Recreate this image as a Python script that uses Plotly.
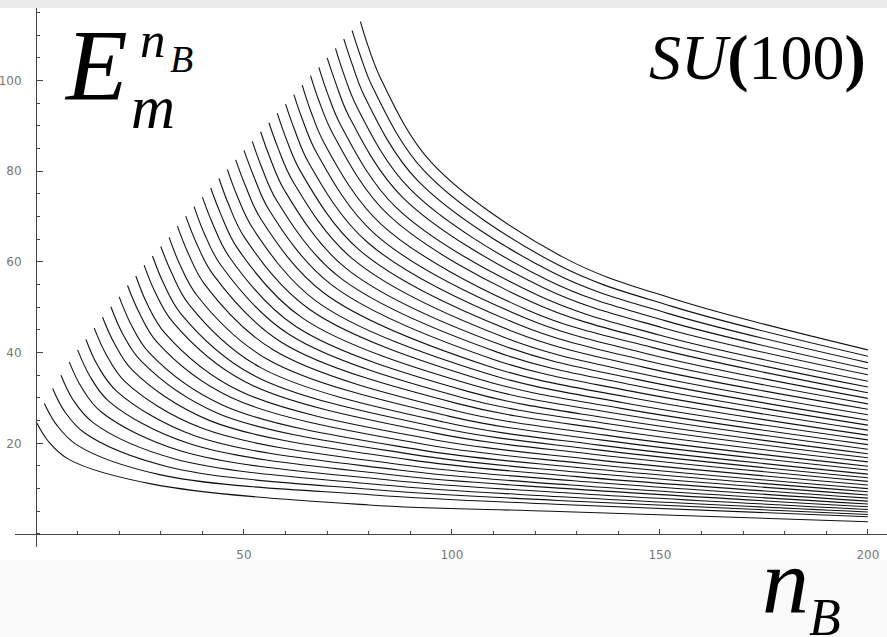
import plotly.graph_objects as go

W, H = 887, 637

# ---- data ----
# start of every curve
N0 = [0, 2, 4, 6, 8, 10, 12, 14, 16, 18, 20, 22, 24, 26, 28, 30, 32, 34, 36, 38,
      40, 42, 44, 46, 48, 50, 52, 54, 56, 58, 60, 62, 64, 66, 68, 70, 72, 74, 76, 78]
E0 = [24.8, 28.8, 32.1, 35.0, 37.9, 40.6, 42.9, 45.4, 47.8, 50.1, 52.3, 54.8, 56.9, 59.3,
      61.3, 63.4, 65.4, 67.9, 70.1, 72.2, 74.3, 76.3, 78.4, 80.4, 82.5, 84.6, 86.6, 88.7,
      90.7, 92.8, 94.8, 96.9, 99.0, 101.1, 102.9, 105.0, 107.1, 109.2, 111.0, 113.0]
# a little after the start
NA = [3.0, 5.0, 6.9, 8.9, 10.9, 12.9, 14.8, 16.8, 18.8, 20.7, 22.7, 24.7, 26.6, 28.6,
      30.6, 32.6, 34.5, 36.5, 38.5, 40.4, 42.4, 44.4, 46.3, 48.3, 50.3, 52.3, 54.2, 56.2,
      58.2, 60.1, 62.1, 64.1, 66.0, 68.0, 70.0, 72.0, 73.9, 75.9, 77.9, 79.8]
EA = [20.4, 24.0, 27.0, 29.6, 32.4, 34.9, 37.2, 39.7, 42.1, 44.4, 46.5, 49.0, 51.0, 53.4,
      55.4, 57.6, 59.6, 62.1, 64.3, 66.4, 68.6, 70.6, 72.7, 74.7, 76.9, 79.0, 81.0, 83.1,
      85.1, 87.3, 89.3, 91.3, 93.4, 95.6, 97.4, 99.6, 101.7, 103.9, 105.7, 107.7]
N1 = [8, 9.9, 11.8, 13.8, 15.7, 17.6, 19.5, 21.4, 23.4, 25.3, 27.2, 29.1, 31.0, 33.0,
      34.9, 36.8, 38.7, 40.6, 42.6, 44.5, 46.4, 48.3, 50.2, 52.2, 54.1, 56, 57.9, 59.8,
      61.8, 63.7, 65.6, 67.5, 69.4, 71.4, 73.3, 75.2, 77.1, 79.0, 81.0, 82.9]
E1 = [16.4, 19.6, 22.2, 24.5, 26.9, 29.2, 31.4, 33.6, 35.9, 38.1, 40.0, 42.3, 44.3, 46.6,
      48.5, 50.6, 52.6, 55.0, 57.2, 59.2, 61.2, 63.2, 65.3, 67.3, 69.4, 71.5, 73.5, 75.7,
      77.7, 79.8, 81.8, 84.0, 86.0, 88.2, 90.1, 92.2, 94.3, 96.5, 98.4, 100.4]
N2 = [28, 29.7, 31.4, 33.2, 34.9, 36.6, 38.3, 40.0, 41.8, 43.5, 45.2, 46.9, 48.6, 50.4,
      52.1, 53.8, 55.5, 57.2, 59.0, 60.7, 62.4, 64.1, 65.8, 67.6, 69.3, 71, 72.7, 74.4,
      76.2, 77.9, 79.6, 81.3, 83.0, 84.8, 86.5, 88.2, 89.9, 91.6, 93.4, 95.1]
E2 = [11.0, 13.1, 14.9, 16.6, 18.3, 20.0, 21.6, 23.3, 25.0, 26.7, 28.3, 30.1, 31.7, 33.5,
      35.1, 36.8, 38.6, 40.5, 42.3, 44.1, 45.8, 47.6, 49.5, 51.2, 53.1, 55.0, 56.8, 58.7,
      60.6, 62.5, 64.4, 66.3, 68.3, 70.3, 72.1, 74.2, 76.1, 78.1, 80.0, 81.9]
N3 = [80, 81.2, 82.4, 83.6, 84.8, 86, 87.2, 88.4, 89.6, 90.8, 92, 93.2, 94.4, 95.6, 96.8,
      98, 99.2, 100.4, 101.6, 102.8, 104, 105.2, 106.4, 107.6, 108.8, 110, 111.2, 112.4,
      113.6, 114.8, 116, 117.2, 118.4, 119.6, 120.8, 122, 123.2, 124.4, 125.6, 126.8]
E3 = [6.4, 8.6, 9.7, 10.8, 11.9, 13.0, 14.1, 15.2, 16.4, 17.5, 18.6, 19.8, 21.0, 22.3,
      23.5, 24.7, 26.0, 27.3, 28.7, 30.0, 31.4, 32.8, 34.2, 35.6, 37.0, 38.5, 40.0, 41.5,
      43.0, 44.6, 46.2, 47.8, 49.3, 51.0, 52.6, 54.3, 55.9, 57.6, 59.3, 61.0]
N4 = [124, 124.8, 125.5, 126.3, 127, 127.8, 128.6, 129.3, 130.1, 130.8, 131.6, 132.4, 133.1,
      133.9, 134.6, 135.4, 136.2, 136.9, 137.7, 138.4, 139.2, 140, 140.7, 141.5, 142.2, 143,
      143.8, 144.5, 145.3, 146, 146.8, 147.6, 148.3, 149.1, 149.8, 150.6, 151.4, 152.1,
      152.9, 153.6]
E4 = [5.0, 6.55, 7.4, 8.2, 9.1, 10.0, 10.8, 11.75, 12.65, 13.6, 14.55, 15.5, 16.5, 17.6,
      18.6, 19.6, 20.7, 21.8, 23.0, 24.2, 25.3, 26.5, 27.7, 28.9, 30.2, 31.5, 32.8, 34.1,
      35.4, 36.8, 38.2, 39.6, 41.1, 42.5, 43.9, 45.5, 47.0, 48.6, 50.2, 51.75]
# right end of every curve
N_END = 200
E_END = [2.7, 3.8, 4.3, 4.85, 5.4, 6.0, 6.6, 7.25, 7.9, 8.6, 9.3, 10.0, 10.8, 11.6, 12.4,
         13.2, 14.1, 14.95, 15.9, 16.8, 17.7, 18.7, 19.7, 20.75, 21.8, 22.9, 24.0, 25.1,
         26.3, 27.5, 28.7, 29.9, 31.15, 32.4, 33.7, 35.1, 36.4, 37.8, 39.2, 40.6]

X_TICKS = [50, 100, 150, 200]
Y_TICKS = [20, 40, 60, 80, 100]

# ---- figure ----
fig = go.Figure()
for k in range(len(N0)):
    fig.add_trace(go.Scatter(
        x=[N0[k], NA[k], N1[k], N2[k], N3[k], N4[k], N_END],
        y=[E0[k], EA[k], E1[k], E2[k], E3[k], E4[k], E_END[k]],
        mode="lines",
        line=dict(color="#111111", width=1.1, shape="spline", smoothing=1.0),
        hoverinfo="skip", showlegend=False))


def px(x):
    return x / W


def py(y):
    return 1 - y / H


tickfont = dict(family="DejaVu Sans", size=12, color="#777777")
axcol = "#444444"

fig.update_layout(
    width=W, height=H,
    margin=dict(l=0, r=0, t=0, b=0),
    paper_bgcolor="#fafafa",
    plot_bgcolor="rgba(0,0,0,0)",
    xaxis=dict(
        domain=[px(15), 1], range=[-5.05, 204.6], anchor="free", position=py(534),
        showline=True, linecolor=axcol, linewidth=1, showgrid=False, zeroline=False,
        ticks="inside", ticklen=5, tickwidth=1, tickcolor=axcol,
        tickmode="array", tickvals=X_TICKS, tickfont=tickfont, ticklabelstandoff=10,
        minor=dict(dtick=10, tick0=0, ticks="inside", ticklen=3, tickcolor=axcol, showgrid=False),
        fixedrange=True),
    yaxis=dict(
        domain=[py(547), py(8)], range=[-2.87, 116.0], anchor="free", position=px(36),
        showline=True, linecolor=axcol, linewidth=1, showgrid=False, zeroline=False,
        ticks="inside", ticklen=6, tickwidth=1, tickcolor=axcol,
        tickmode="array", tickvals=Y_TICKS, tickfont=tickfont, ticklabelstandoff=12,
        minor=dict(dtick=5, tick0=0, ticks="inside", ticklen=3, tickcolor=axcol, showgrid=False),
        fixedrange=True),
    shapes=[
        dict(type="rect", xref="paper", yref="paper", x0=0, x1=1, y0=py(560), y1=py(8),
             fillcolor="#ffffff", line=dict(width=0), layer="below"),
        dict(type="rect", xref="paper", yref="paper", x0=0, x1=1, y0=py(8), y1=1,
             fillcolor="#ebebeb", line=dict(width=0), layer="below"),
    ],
)

serif = "Liberation Serif"


def label(text, x, yc, size, anchor="left"):
    fig.add_annotation(xref="paper", yref="paper", x=px(x), y=py(yc), text=text,
                       showarrow=False, xanchor=anchor, yanchor="middle",
                       font=dict(family=serif, size=size, color="#000000"))


# E_m^{n_B}
label("<i>E</i>", 62, 66, 101)
label("<i>n</i>", 138, 40, 51)
label("<i>B</i>", 168, 59, 38)
label("<i>m</i>", 129, 107, 61)
# SU(100)
label("<i>SU</i><b>(</b>100<b>)</b>", 647, 57, 64)
# n_B axis label
label("<i>n</i>", 760, 581, 94)
label("<i>B</i>", 807, 617, 52)

fig.write_html("out.html")
